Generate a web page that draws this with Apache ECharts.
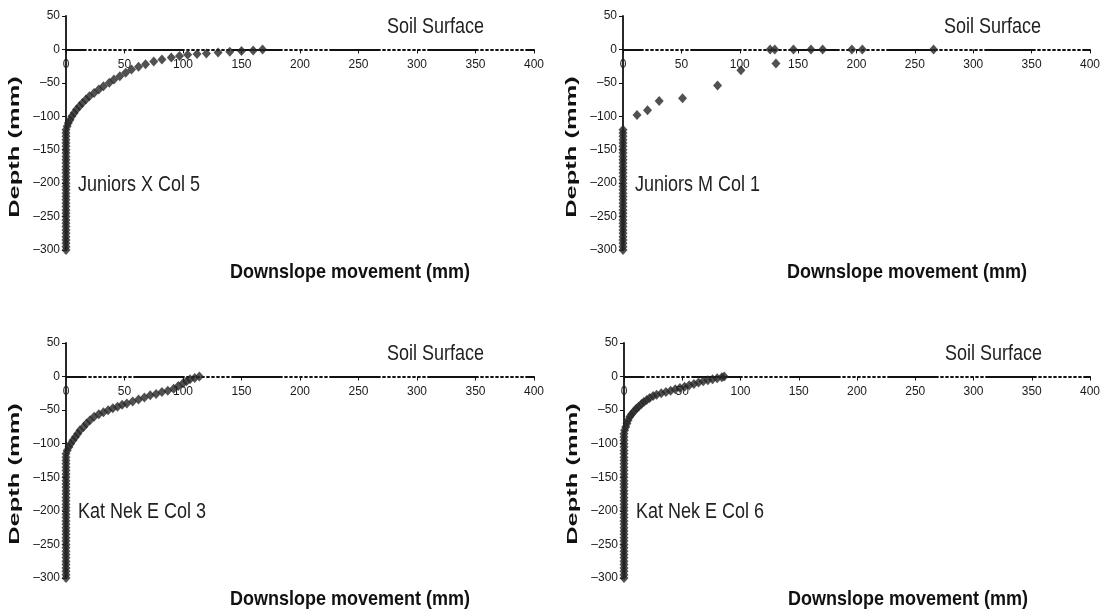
<!DOCTYPE html>
<html>
<head>
<meta charset="utf-8">
<script src="https://cdn.jsdelivr.net/npm/echarts@6/dist/echarts.min.js"></script>
<style>
  html, body { margin: 0; padding: 0; background: #fff; }
  #main { width: 1106px; height: 610px; }
</style>
</head>
<body>
<div id="main"></div>
<script>
// tick labels
var xTicks = [0, 50, 100, 150, 200, 250, 300, 350, 400];
var yTicks = [50, 0, -50, -100, -150, -200, -250, -300];

// panel names
var panelNames = ['Juniors X Col 5', 'Juniors M Col 1', 'Kat Nek E Col 3', 'Kat Nek E Col 6'];

// [downslope movement (mm), depth (mm)]
var juniorsX5 = [
  [0,-300],[0,-295],[0,-290],[0,-285],[0,-280],[0,-275],[0,-270],[0,-265],[0,-260],[0,-255],
  [0,-250],[0,-245],[0,-240],[0,-235],[0,-230],[0,-225],[0,-220],[0,-215],[0,-210],[0,-205],
  [0,-200],[0,-195],[0,-190],[0,-185],[0,-180],[0,-175],[0,-170],[0,-165],[0,-160],[0,-155],
  [0,-150],[0,-145],[0,-140],[0,-135],[0,-130],[0,-125],[0,-120],
  [1,-115],[2,-110],[3.5,-105],[5,-100],[7,-95],[9,-90],[11.5,-85],[14,-80],[17,-75],
  [20,-70],[24,-65],[28,-60],[32,-55],[37,-50],[41,-45],[46,-40],[51,-35],[56,-30],
  [62,-26],[68,-22],[75,-18],[82,-15],[90,-12],[97,-10],[104,-8],[112,-7],[120,-6],
  [130,-4.5],[140,-3.5],[150,-2.5],[160,-1.5],[168,0]
];
var juniorsM1 = [
  [0,-300],[0,-295],[0,-290],[0,-285],[0,-280],[0,-275],[0,-270],[0,-265],[0,-260],[0,-255],
  [0,-250],[0,-245],[0,-240],[0,-235],[0,-230],[0,-225],[0,-220],[0,-215],[0,-210],[0,-205],
  [0,-200],[0,-195],[0,-190],[0,-185],[0,-180],[0,-175],[0,-170],[0,-165],[0,-160],[0,-155],
  [0,-150],[0,-145],[0,-140],[0,-135],[0,-130],[0,-125],[0,-120],
  [12,-98],[21,-91],[31,-77],[51,-73],[81,-54],[101,-31],
  [126,0],[130,0],[131,-21],[146,0],[161,0],[171,0],[196,0],[205,0],[266,0]
];
var katNekE3 = [
  [0,-300],[0,-295],[0,-290],[0,-285],[0,-280],[0,-275],[0,-270],[0,-265],[0,-260],[0,-255],
  [0,-250],[0,-245],[0,-240],[0,-235],[0,-230],[0,-225],[0,-220],[0,-215],[0,-210],[0,-205],
  [0,-200],[0,-195],[0,-190],[0,-185],[0,-180],[0,-175],[0,-170],[0,-165],[0,-160],[0,-155],
  [0,-150],[0,-145],[0,-140],[0,-135],[0,-130],[0,-125],[0,-120],[0,-115],
  [1,-110],[2.5,-105],[4,-100],[6,-95],[8,-90],[10,-85],[12,-80],[15,-75],[17.5,-70],
  [20.5,-65],[24,-60],[28,-56],[32,-53],[36,-50],[40,-47],[44,-45],[48,-42],[52,-40],
  [57,-37],[62,-34],[67,-31],[72,-28],[77,-26],[82,-23],[87,-21],[92,-18],[96,-14],
  [100,-10],[103,-7],[106,-4],[110,-2],[114,0]
];
var katNekE6 = [
  [0,-300],[0,-295],[0,-290],[0,-285],[0,-280],[0,-275],[0,-270],[0,-265],[0,-260],[0,-255],
  [0,-250],[0,-245],[0,-240],[0,-235],[0,-230],[0,-225],[0,-220],[0,-215],[0,-210],[0,-205],
  [0,-200],[0,-195],[0,-190],[0,-185],[0,-180],[0,-175],[0,-170],[0,-165],[0,-160],[0,-155],
  [0,-150],[0,-145],[0,-140],[0,-135],[0,-130],[0,-125],[0,-120],[0,-115],[0,-110],[0,-105],
  [0,-100],[0,-95],[0,-90],[0,-85],
  [0.5,-80],[1.5,-75],[2.5,-70],[3.5,-65],[5,-60],[6.5,-56],[8.5,-52],[10.5,-48],
  [12.5,-45],[15,-41],[17,-38],[19.5,-35],[22,-32],[25,-29],[28,-27],[32,-25],[36,-23],
  [40,-21],[44,-19],[48,-17],[52,-15],[56,-13],[60,-11],[64,-9],[68,-7],[72,-5.5],
  [76,-4],[80,-2.5],[84,-1],[86,0]
];
var panelData = [juniorsX5, juniorsM1, katNekE3, katNekE6];

// grid boxes in pixels
var boxes = [
  {left: 66, top: 16, width: 468, height: 234},
  {left: 623, top: 16, width: 467, height: 234},
  {left: 66, top: 343, width: 468, height: 235},
  {left: 624, top: 343, width: 466, height: 235}
];

var dashDot = [50, 3, 2, 3, 2, 3, 2, 3, 2, 3, 2, 3, 2, 3, 2, 3, 2, 3, 2, 3];

var yMax = yTicks[0], yMin = yTicks[yTicks.length - 1];
var grids = [], xAxes = [], yAxes = [], series = [], graphics = [];

boxes.forEach(function (b, i) {
  grids.push({left: b.left, top: b.top, width: b.width, height: b.height});
  // axis line at zero depth
  xAxes.push({
    type: 'value', gridIndex: i,
    min: xTicks[0], max: xTicks[xTicks.length - 1], interval: 50,
    splitLine: {show: false},
    axisLine: {onZero: true, lineStyle: {color: '#111', width: 1.8, type: dashDot, dashOffset: 30}},
    axisTick: {show: true, length: 4, lineStyle: {color: '#111', width: 1}},
    axisLabel: {show: false}
  });
  // labels just under the zero line
  xAxes.push({
    type: 'value', gridIndex: i, position: 'bottom',
    offset: -b.height * (0 - yMin) / (yMax - yMin),
    min: xTicks[0], max: xTicks[xTicks.length - 1], interval: 50,
    splitLine: {show: false},
    axisLine: {show: false, onZero: false},
    axisTick: {show: false},
    axisLabel: {color: '#1a1a1a', fontSize: 12, fontFamily: 'Liberation Sans', margin: 9}
  });
  yAxes.push({
    type: 'value', gridIndex: i,
    min: yMin, max: yMax, interval: 50,
    splitLine: {show: false},
    axisLine: {show: true, onZero: false, lineStyle: {color: '#111', width: 1.8}},
    axisTick: {show: true, length: 4, lineStyle: {color: '#111', width: 1}},
    axisLabel: {
      color: '#1a1a1a', fontSize: 12, fontFamily: 'Liberation Sans', margin: 6,
      formatter: function (v) { return String(v).replace('-', '\u2013'); }
    }
  });
  series.push({
    type: 'scatter', xAxisIndex: i * 2, yAxisIndex: i,
    symbol: 'diamond', symbolSize: [9, 10],
    itemStyle: {color: '#262626'},
    data: panelData[i],
    silent: true, z: 3
  });

  graphics.push({
    type: 'text', x: b.left + 321, y: b.top + 11, scaleY: 1.2,
    style: {text: 'Soil Surface', font: '18px "Liberation Sans", Arial', fill: '#222',
            textAlign: 'left', textVerticalAlign: 'middle', align: 'left', verticalAlign: 'middle'}
  });
  graphics.push({
    type: 'text', x: b.left + 12, y: b.top + 169, scaleY: 1.2,
    style: {text: panelNames[i], font: '18px "Liberation Sans", Arial', fill: '#222',
            textAlign: 'left', textVerticalAlign: 'middle', align: 'left', verticalAlign: 'middle'}
  });
  graphics.push({
    type: 'text', x: b.left + 284, y: b.top + 256, scaleY: 1.15,
    style: {text: 'Downslope movement (mm)', font: 'bold 18px "Liberation Sans", Arial', fill: '#111',
            textAlign: 'center', textVerticalAlign: 'middle', align: 'center', verticalAlign: 'middle'}
  });
  graphics.push({
    type: 'text', x: b.left - 51, y: b.top + 131, rotation: Math.PI / 2, scaleX: 1.7,
    style: {text: 'Depth (mm)', font: 'bold 15px "Liberation Sans", Arial', fill: '#111',
            textAlign: 'center', textVerticalAlign: 'middle', align: 'center', verticalAlign: 'middle'}
  });
});

var myChart = echarts.init(document.getElementById('main'));
myChart.setOption({
  animation: false,
  backgroundColor: '#fff',
  grid: grids,
  xAxis: xAxes,
  yAxis: yAxes,
  series: series,
  graphic: graphics
});
</script>
</body>
</html>
